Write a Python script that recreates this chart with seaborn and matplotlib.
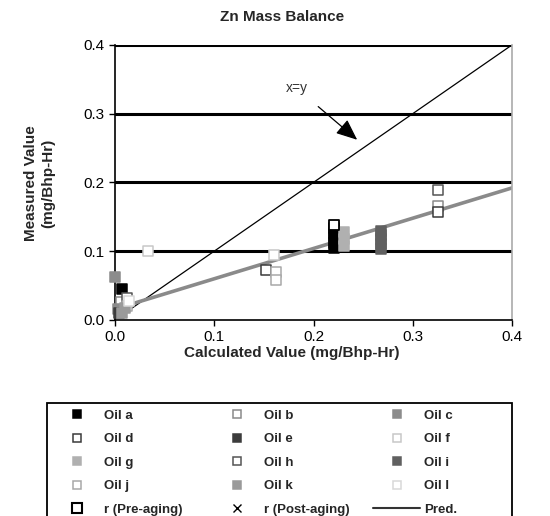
import numpy as np
import pandas as pd
import matplotlib
matplotlib.use("Agg")
import matplotlib.pyplot as plt
from matplotlib.lines import Line2D
from matplotlib.patches import Rectangle
import seaborn as sns

# values (calculated vs measured, mg/Bhp-Hr)
oil_a_x = [0.007, 0.221, 0.221, 0.221, 0.221, 0.221]
oil_a_y = [0.045, 0.104, 0.112, 0.120, 0.127, 0.133]
oil_b_x = [0.006, 0.325]
oil_b_y = [0.026, 0.166]
oil_c_x = [0.000, 0.003]
oil_c_y = [0.063, 0.016]
oil_d_x = [0.152, 0.325]
oil_d_y = [0.072, 0.157]
oil_e_x = [0.004]
oil_e_y = [0.010]
oil_f_x = [0.033, 0.160]
oil_f_y = [0.100, 0.094]
oil_g_x = [0.231, 0.231, 0.231]
oil_g_y = [0.108, 0.118, 0.128]
oil_h_x = [0.012, 0.325]
oil_h_y = [0.032, 0.189]
oil_i_x = [0.268, 0.268, 0.268, 0.268, 0.268]
oil_i_y = [0.103, 0.110, 0.117, 0.124, 0.130]
oil_j_x = [0.162, 0.162, 0.012]
oil_j_y = [0.070, 0.058, 0.020]
oil_k_x = [0.007, 0.010]
oil_k_y = [0.010, 0.018]
oil_l_x = [0.014]
oil_l_y = [0.028]
pre_x = [0.221]
pre_y = [0.138]
pred_x = [0.005, 0.4]
pred_y = [0.018, 0.192]
xy_line = [0.012, 0.4]

series = [
    ("Oil a", oil_a_x, oil_a_y, "#000000", True),
    ("Oil b", oil_b_x, oil_b_y, "#8a8a8a", False),
    ("Oil c", oil_c_x, oil_c_y, "#8c8c8c", True),
    ("Oil d", oil_d_x, oil_d_y, "#3a3a3a", False),
    ("Oil e", oil_e_x, oil_e_y, "#3c3c3c", True),
    ("Oil f", oil_f_x, oil_f_y, "#c8c8c8", False),
    ("Oil g", oil_g_x, oil_g_y, "#b0b0b0", True),
    ("Oil h", oil_h_x, oil_h_y, "#555555", False),
    ("Oil i", oil_i_x, oil_i_y, "#606060", True),
    ("Oil j", oil_j_x, oil_j_y, "#a8a8a8", False),
    ("Oil k", oil_k_x, oil_k_y, "#9a9a9a", True),
    ("Oil l", oil_l_x, oil_l_y, "#d8d8d8", False),
]

sns.set_style("white")
plt.rcParams['font.family'] = ['Liberation Sans', 'DejaVu Sans']

fig = plt.figure(figsize=(5.5, 5.16), dpi=100)
ax = fig.add_axes([0.209, 0.380, 0.722, 0.533])

for y in [0.1, 0.2, 0.3, 0.4]:
    ax.axhline(y, color="black", linewidth=2.2, zorder=1)

sns.lineplot(x=xy_line, y=xy_line, color="black", linewidth=0.9, ax=ax, zorder=2)
sns.lineplot(x=pred_x, y=pred_y, color="#8a8a8a", linewidth=2.6, ax=ax, zorder=2)

handles = []
for name, xs, ys, col, filled in series:
    df = pd.DataFrame({"x": xs, "y": ys})
    fc = col if filled else "white"
    sns.scatterplot(data=df, x="x", y="y", marker="s", s=45, facecolor=fc,
                    edgecolor=col, linewidth=1.1, ax=ax, zorder=3, clip_on=False)
    handles.append(Line2D([], [], marker="s", linestyle="none", markersize=6,
                          markerfacecolor=fc, markeredgecolor=col,
                          markeredgewidth=1.1, label=name))

sns.scatterplot(x=pre_x, y=pre_y, marker="s", s=45, facecolor="white",
                edgecolor="black", linewidth=1.3, ax=ax, zorder=4)
handles.append(Line2D([], [], marker="s", linestyle="none", markersize=7,
                      markerfacecolor="white", markeredgecolor="black",
                      markeredgewidth=1.5, label="r (Pre-aging)"))
handles.append(Line2D([], [], marker="x", linestyle="none", markersize=6,
                      color="black", markeredgewidth=1.0, label="r (Post-aging)"))
handles.append(Line2D([], [], color="#333333", linewidth=1.5, label="Pred."))

ax.annotate("x=y", xy=(0.244, 0.262), xytext=(0.183, 0.337),
            fontsize=10, color="#333333", ha="center", va="center",
            arrowprops=dict(arrowstyle="-|>,head_length=1.3,head_width=0.55",
                            color="black", lw=0.9, shrinkA=9, shrinkB=0))

ax.set_xlim(0, 0.4)
ax.set_ylim(0, 0.4)
ax.set_xticks([0.0, 0.1, 0.2, 0.3, 0.4])
ax.set_yticks([0.0, 0.1, 0.2, 0.3, 0.4])
ax.xaxis.set_major_formatter(matplotlib.ticker.FormatStrFormatter("%.1f"))
ax.yaxis.set_major_formatter(matplotlib.ticker.FormatStrFormatter("%.1f"))
ax.tick_params(axis="both", direction="out", length=4, width=1, labelsize=11,
               colors="black", bottom=True, left=True)
ax.set_xlabel("")
ax.set_ylabel("")
for side in ["left", "bottom"]:
    ax.spines[side].set_color("black")
    ax.spines[side].set_linewidth(1.2)
ax.spines["right"].set_color("#aaaaaa")
ax.spines["right"].set_linewidth(1.2)
ax.spines["top"].set_visible(False)

fig.text(0.512, 0.967, "Zn Mass Balance", ha="center", va="center",
         fontsize=11, fontweight="bold")
fig.text(0.53, 0.316, "Calculated Value (mg/Bhp-Hr)", ha="center", va="center",
         fontsize=11, fontweight="bold")
fig.text(0.072, 0.645, "Measured Value\n(mg/Bhp-Hr)", ha="center", va="center",
         rotation=90, fontsize=11, fontweight="bold", linespacing=1.35)

# legend box, cut by the bottom edge as in the reference
fig.patches.append(Rectangle((47 / 550, -0.05), 465 / 550, 0.219 + 0.05,
                             transform=fig.transFigure, fill=False,
                             edgecolor="black", linewidth=1.3))

# one legend per column, row-major order as in the reference
col_left = [49 / 550, 209 / 550, 369 / 550]
for c in range(3):
    leg = fig.legend(handles=handles[c::3], loc="upper left",
                     bbox_to_anchor=(col_left[c], 0.2135), frameon=False,
                     prop={"size": 9.5, "weight": "bold"},
                     labelspacing=0.85, handlelength=3.6, handletextpad=0.25,
                     borderpad=0.3, borderaxespad=0)

fig.savefig("out.png", dpi=100)
